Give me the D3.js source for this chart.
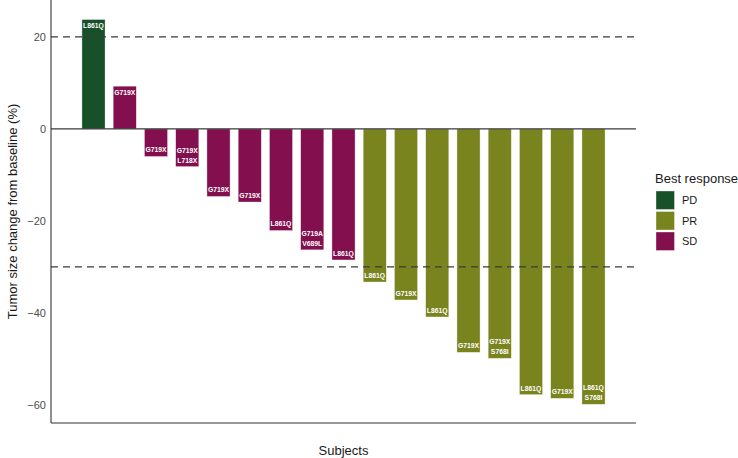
<!DOCTYPE html>
<html><head><meta charset="utf-8">
<script src="https://cdn.jsdelivr.net/npm/d3@7"></script>
<style>body{margin:0;background:#fff}svg{display:block;font-family:"Liberation Sans",Arial,sans-serif}</style>
</head><body><svg id="c" width="738" height="458"></svg>
<script>
const subjects = d3.range(1, 18);
const values = [23.8, 9.3, -6.0, -8.2, -14.7, -15.9, -22.1, -26.3, -28.5, -33.3, -37.2, -40.9, -48.6, -49.9, -57.8, -58.6, -59.9];
const responses = ["PD","SD","SD","SD","SD","SD","SD","SD","SD","PR","PR","PR","PR","PR","PR","PR","PR"];
const mutations = ["L861Q","G719X","G719X","G719X\nL718X","G719X","G719X","L861Q","G719A\nV689L","L861Q","L861Q","G719X","L861Q","G719X","G719X\nS768I","L861Q","G719X","L861Q\nS768I"];
const yTicks = [20, 0, -20, -40, -60];
const refLines = [20, -30];
const legendCats = ["PD","PR","SD"];
const legendColors = ["#18502a","#7a841e","#830f4f"];

const svg = d3.select("#c");
const L = 51, R = 636, T = 0, B = 423;
const x = d3.scaleLinear().domain([1 - 1.36, 17 + 1.36]).range([L, R]);
const y = d3.scaleLinear().domain([-63.96, 28.04]).range([B, T]);
const color = d3.scaleOrdinal().domain(legendCats).range(legendColors);
const bw = (x(2) - x(1)) * 0.74;

const g = svg.append("g");
g.selectAll("rect.bar").data(subjects).join("rect").attr("class","bar")
  .attr("x", i => x(i) - bw/2).attr("width", bw)
  .attr("y", i => y(Math.max(0, values[i-1])))
  .attr("height", i => Math.abs(y(values[i-1]) - y(0)))
  .attr("fill", i => color(responses[i-1]))
  .attr("stroke", "#ffffff").attr("stroke-opacity", 0.6).attr("stroke-width", 0.6);

g.selectAll("line.ref").data(refLines).join("line")
  .attr("x1", L).attr("x2", R).attr("y1", d => y(d)).attr("y2", d => y(d))
  .attr("stroke", "#3a3a3a").attr("stroke-width", 1.3).attr("stroke-dasharray", "7,5");
g.append("line").attr("x1", L).attr("x2", R).attr("y1", y(0)).attr("y2", y(0))
  .attr("stroke", "#3a3a3a").attr("stroke-width", 1.1);

subjects.forEach(i => {
  const v = values[i-1];
  const lines = mutations[i-1].split("\n");
  const n = lines.length;
  lines.forEach((t, k) => {
    let cy;
    if (v >= 0) cy = y(v) + 6 + k * 10;
    else cy = y(v) - 6.5 - (n - 1 - k) * 10;
    g.append("text").attr("x", x(i)).attr("y", cy).attr("dy", "0.35em")
      .attr("text-anchor", "middle").attr("fill", "#fff").attr("font-weight", "bold")
      .attr("font-size", 6.8).text(t);
  });
});

const ya = d3.axisLeft(y).tickValues(yTicks).tickSize(0).tickPadding(5);
const yg = svg.append("g").attr("transform", `translate(${L},0)`).call(ya);
yg.select(".domain").remove();
yg.selectAll("text").attr("fill", "#4d4d4d").attr("font-size", 11).attr("font-family","Liberation Sans, Arial, sans-serif");
svg.append("line").attr("x1", L).attr("x2", L).attr("y1", T).attr("y2", B).attr("stroke", "#333").attr("stroke-width", 1.1);
svg.append("line").attr("x1", L).attr("x2", R).attr("y1", B).attr("y2", B).attr("stroke", "#333").attr("stroke-width", 1.1);

svg.append("text").attr("transform", `translate(12,${(T+B)/2}) rotate(-90)`)
  .attr("text-anchor","middle").attr("dy","0.35em").attr("font-size", 13).attr("fill","#1a1a1a")
  .text("Tumor size change from baseline (%)");
svg.append("text").attr("x", (L+R)/2).attr("y", 450).attr("dy","0.35em").attr("text-anchor","middle")
  .attr("font-size", 13).attr("fill","#1a1a1a").text("Subjects");

const lg = svg.append("g").attr("transform","translate(656,0)");
lg.append("text").attr("x", -1).attr("y", 178).attr("dy","0.35em").attr("font-size", 13).attr("fill","#1a1a1a").text("Best response");
legendCats.forEach((c, k) => {
  lg.append("rect").attr("x", 0).attr("y", 191 + k*20.5).attr("width", 18.5).attr("height", 18.5)
    .attr("fill", color(c)).attr("stroke","#fff").attr("stroke-opacity",0.6).attr("stroke-width",0.6);
  lg.append("text").attr("x", 26).attr("y", 200.5 + k*20.5).attr("dy","0.35em").attr("font-size", 11)
    .attr("fill","#1a1a1a").text(c);
});
</script></body></html>
